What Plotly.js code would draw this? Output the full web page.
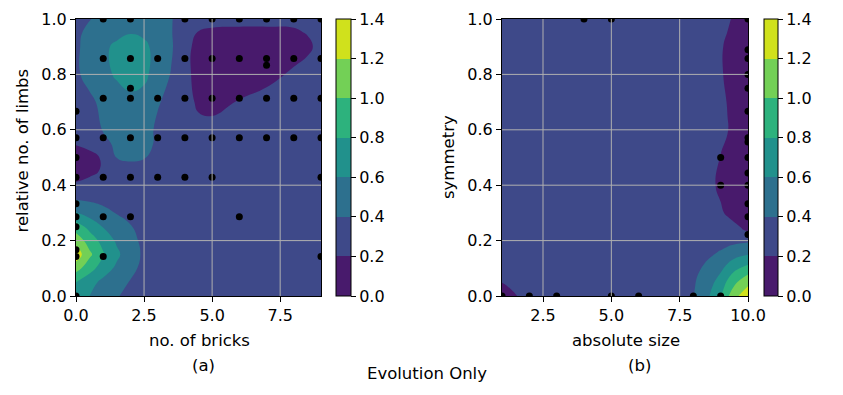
<!DOCTYPE html>
<html>
<head>
<meta charset="utf-8">
<script src="https://cdn.plot.ly/plotly-3.0.1.min.js"></script>
<style>
  html, body { margin: 0; padding: 0; background: #fff; }
  #plot-div { width: 843px; height: 395px; }
</style>
</head>
<body>
<div id="plot-div"></div>
<script>
// ---- (a) density grid ----
var gridXA = [0, 0.5, 1, 1.5, 2, 2.5, 3, 3.5, 4, 4.5, 5, 6, 7, 8, 8.5, 9];
var gridYA = [0, 0.05, 0.1, 0.15, 0.2, 0.25, 0.3, 0.35, 0.4, 0.45, 0.5, 0.55, 0.6, 0.7, 0.8, 0.9, 0.95, 1.0];
var densityA = [
  [0.67, 0.60, 0.49, 0.41, 0.36, 0.32, 0.31, 0.30, 0.30, 0.30, 0.30, 0.30, 0.30, 0.30, 0.30, 0.30],
  [0.80, 0.67, 0.55, 0.46, 0.39, 0.34, 0.31, 0.30, 0.30, 0.30, 0.30, 0.30, 0.30, 0.30, 0.30, 0.30],
  [1.08, 0.88, 0.70, 0.56, 0.44, 0.36, 0.32, 0.30, 0.30, 0.30, 0.30, 0.30, 0.30, 0.30, 0.30, 0.30],
  [1.32, 1.04, 0.82, 0.64, 0.48, 0.37, 0.32, 0.30, 0.30, 0.30, 0.30, 0.30, 0.30, 0.30, 0.30, 0.30],
  [1.12, 0.91, 0.73, 0.57, 0.45, 0.36, 0.32, 0.30, 0.30, 0.30, 0.30, 0.30, 0.30, 0.30, 0.30, 0.30],
  [0.90, 0.74, 0.59, 0.49, 0.41, 0.34, 0.31, 0.30, 0.30, 0.30, 0.30, 0.30, 0.30, 0.30, 0.30, 0.30],
  [0.61, 0.52, 0.45, 0.39, 0.35, 0.32, 0.30, 0.30, 0.30, 0.30, 0.30, 0.30, 0.30, 0.30, 0.30, 0.30],
  [0.39, 0.37, 0.35, 0.33, 0.31, 0.30, 0.30, 0.30, 0.30, 0.30, 0.30, 0.30, 0.30, 0.30, 0.30, 0.30],
  [0.22, 0.26, 0.29, 0.30, 0.31, 0.30, 0.30, 0.30, 0.30, 0.30, 0.30, 0.30, 0.30, 0.30, 0.30, 0.30],
  [0.13, 0.16, 0.22, 0.28, 0.35, 0.33, 0.30, 0.30, 0.30, 0.30, 0.30, 0.30, 0.30, 0.30, 0.30, 0.30],
  [0.12, 0.15, 0.22, 0.405, 0.42, 0.41, 0.33, 0.30, 0.30, 0.30, 0.30, 0.30, 0.30, 0.30, 0.30, 0.30],
  [0.21, 0.25, 0.33, 0.45, 0.48, 0.46, 0.37, 0.31, 0.30, 0.30, 0.30, 0.30, 0.30, 0.30, 0.30, 0.30],
  [0.28, 0.33, 0.41, 0.50, 0.52, 0.49, 0.36, 0.31, 0.29, 0.25, 0.25, 0.28, 0.30, 0.30, 0.30, 0.30],
  [0.30, 0.35, 0.46, 0.53, 0.55, 0.52, 0.42, 0.33, 0.27, 0.17, 0.15, 0.21, 0.27, 0.30, 0.30, 0.30],
  [0.36, 0.48, 0.56, 0.62, 0.68, 0.65, 0.50, 0.39, 0.25, 0.14, 0.11, 0.11, 0.14, 0.23, 0.28, 0.30],
  [0.36, 0.49, 0.57, 0.63, 0.70, 0.65, 0.52, 0.42, 0.26, 0.14, 0.11, 0.10, 0.10, 0.12, 0.16, 0.26],
  [0.35, 0.46, 0.54, 0.56, 0.59, 0.56, 0.50, 0.41, 0.28, 0.19, 0.17, 0.16, 0.16, 0.17, 0.21, 0.28],
  [0.32, 0.39, 0.47, 0.52, 0.54, 0.53, 0.47, 0.41, 0.31, 0.26, 0.25, 0.25, 0.25, 0.25, 0.27, 0.30]
];

// ---- (a) sampled robots ----
var bricksA = [0, 0, 0, 0, 0, 0, 0, 0, 0, 0,
               1, 1, 1, 1, 1, 1, 1,
               2, 2, 2, 2, 2, 2, 2,
               3, 3, 3, 3,
               4, 4, 4, 4, 4,
               5, 5, 5, 5, 5,
               6, 6, 6, 6, 6,
               7, 7, 7, 7, 7,
               8, 8, 8, 8,
               9, 9, 9, 9, 9, 9];
var limbsA = [0, 0.143, 0.167, 0.25, 0.286, 0.333, 0.429, 0.5, 0.571, 0.667,
              1, 0.857, 0.714, 0.571, 0.429, 0.286, 0.143,
              1, 0.857, 0.75, 0.714, 0.571, 0.429, 0.286,
              0.857, 0.714, 0.571, 0.429,
              1, 0.857, 0.714, 0.571, 0.429,
              1, 0.857, 0.714, 0.571, 0.429,
              1, 0.857, 0.714, 0.571, 0.286,
              1, 0.857, 0.833, 0.714, 0.571,
              1, 0.857, 0.714, 0.571,
              1, 0.857, 0.714, 0.571, 0.429, 0.143];

// ---- (b) density grid ----
var gridXB = [1, 1.5, 2, 3, 4, 5, 6, 7, 7.5, 8, 8.5, 9, 9.25, 9.5, 9.75, 10];
var gridYB = [0, 0.04, 0.08, 0.12, 0.16, 0.2, 0.24, 0.3, 0.4, 0.5, 0.6, 0.7, 0.8, 0.9, 1.0];
var densityB = [
  [0.10, 0.19, 0.28, 0.30, 0.30, 0.30, 0.30, 0.30, 0.32, 0.39, 0.56, 0.78, 0.97, 1.13, 1.24, 1.34],
  [0.18, 0.25, 0.29, 0.30, 0.30, 0.30, 0.30, 0.30, 0.32, 0.38, 0.52, 0.70, 0.86, 0.99, 1.09, 1.18],
  [0.28, 0.30, 0.30, 0.30, 0.30, 0.30, 0.30, 0.30, 0.31, 0.36, 0.47, 0.61, 0.73, 0.84, 0.92, 0.99],
  [0.30, 0.30, 0.30, 0.30, 0.30, 0.30, 0.30, 0.30, 0.31, 0.34, 0.41, 0.51, 0.59, 0.66, 0.71, 0.76],
  [0.30, 0.30, 0.30, 0.30, 0.30, 0.30, 0.30, 0.30, 0.30, 0.32, 0.36, 0.41, 0.45, 0.49, 0.52, 0.54],
  [0.30, 0.30, 0.30, 0.30, 0.30, 0.30, 0.30, 0.30, 0.30, 0.30, 0.31, 0.33, 0.34, 0.35, 0.36, 0.37],
  [0.30, 0.30, 0.30, 0.30, 0.30, 0.30, 0.30, 0.30, 0.30, 0.30, 0.30, 0.29, 0.27, 0.24, 0.21, 0.17],
  [0.30, 0.30, 0.30, 0.30, 0.30, 0.30, 0.30, 0.30, 0.30, 0.30, 0.28, 0.22, 0.18, 0.15, 0.12, 0.10],
  [0.30, 0.30, 0.30, 0.30, 0.30, 0.30, 0.30, 0.30, 0.30, 0.29, 0.25, 0.17, 0.13, 0.10, 0.07, 0.05],
  [0.30, 0.30, 0.30, 0.30, 0.30, 0.30, 0.30, 0.30, 0.30, 0.30, 0.27, 0.195, 0.16, 0.13, 0.10, 0.08],
  [0.30, 0.30, 0.30, 0.30, 0.30, 0.30, 0.30, 0.30, 0.30, 0.30, 0.29, 0.24, 0.205, 0.17, 0.14, 0.12],
  [0.30, 0.30, 0.30, 0.30, 0.30, 0.30, 0.30, 0.30, 0.30, 0.30, 0.29, 0.23, 0.195, 0.16, 0.13, 0.10],
  [0.30, 0.30, 0.30, 0.30, 0.30, 0.30, 0.30, 0.30, 0.30, 0.30, 0.28, 0.215, 0.175, 0.14, 0.11, 0.08],
  [0.30, 0.30, 0.30, 0.30, 0.30, 0.30, 0.30, 0.30, 0.30, 0.30, 0.28, 0.215, 0.175, 0.14, 0.11, 0.08],
  [0.30, 0.30, 0.30, 0.30, 0.30, 0.30, 0.30, 0.30, 0.30, 0.30, 0.29, 0.25, 0.22, 0.18, 0.14, 0.10]
];

// ---- (b) sampled robots ----
var sizeB = [4, 5,
             10, 10, 10, 10, 10, 10, 10, 10, 10, 10, 10, 10, 10, 10,
             9, 9,
             1, 2, 3, 5, 6, 8, 9];
var symmetryB = [1, 1,
                 1, 0.889, 0.857, 0.8, 0.75, 0.667, 0.571, 0.556, 0.5, 0.444, 0.4, 0.333, 0.286, 0.222,
                 0.5, 0.4,
                 0, 0, 0, 0, 0, 0, 0];

var xTicksA = [0, 2.5, 5, 7.5];
var xTicksB = [2.5, 5, 7.5, 10];
var yTicks = [0, 0.2, 0.4, 0.6, 0.8, 1.0];
var levelTicks = [0, 0.2, 0.4, 0.6, 0.8, 1.0, 1.2, 1.4];

// matplotlib viridis, one colour per filled band
var bandColors = ["#481a6c", "#3e4989", "#2d708e", "#21918c", "#2db27d", "#73d056", "#d0e11c"];
// where one band's colour hands over to the next on the 0..1 colour scale
var bandSteps = [0.15, 0.3, 0.46, 0.613, 0.768, 0.923];

var FONT = "DejaVu Sans, Arial, sans-serif";
var W = 843, H = 395;

function px(x) { return x / W; }
function py(y) { return 1 - y / H; }

function bandScale() {
  // hard steps, so each band gets one flat colour whichever point
  // of it plotly samples
  var cs = [[0, bandColors[0]]];
  bandSteps.forEach(function (s, k) {
    cs.push([s, bandColors[k]]);
    cs.push([s, bandColors[k + 1]]);
  });
  cs.push([1, bandColors[bandColors.length - 1]]);
  return cs;
}

function colorbarAt(left, width) {
  return {
    x: px(left), xanchor: "left", xref: "paper", xpad: 0,
    y: py(296), yanchor: "bottom", yref: "paper", ypad: 0,
    len: (296 - 19) / H, lenmode: "fraction",
    thickness: width, thicknessmode: "pixels",
    outlinewidth: 1, outlinecolor: "#000",
    ticks: "outside", ticklen: 5, tickwidth: 1, tickcolor: "#000",
    tickvals: levelTicks, tickformat: ".1f",
    tickfont: { family: FONT, size: 16, color: "#000" }
  };
}

function densityTrace(x, y, z, xa, ya, cb) {
  return {
    type: "contour", x: x, y: y, z: z, xaxis: xa, yaxis: ya,
    zmin: 0, zmax: 1.4, autocontour: false,
    contours: { start: 0, end: 1.41, size: 0.2, coloring: "fill", showlines: false },
    line: { width: 0, smoothing: 1.3 },
    colorscale: bandScale(),
    colorbar: cb,
    hoverinfo: "skip"
  };
}

function pointsTrace(x, y, xa, ya) {
  return {
    type: "scatter", mode: "markers", x: x, y: y, xaxis: xa, yaxis: ya,
    marker: { color: "#000", size: 7 },
    cliponaxis: true, showlegend: false, hoverinfo: "skip"
  };
}

function axisStyle(domain, range, ticks) {
  return {
    domain: domain, range: range, tickvals: ticks, tickformat: ".1f",
    showgrid: false, zeroline: false,
    showline: true, mirror: true, linecolor: "#000", linewidth: 1,
    ticks: "outside", ticklen: 5, tickwidth: 1, tickcolor: "#000",
    tickfont: { family: FONT, size: 16, color: "#000" },
    layer: "above traces", fixedrange: true
  };
}

function gridShapes(xref, yref, xs, ys) {
  var shapes = [];
  var line = { color: "#b0b0b0", width: 1 };
  xs.forEach(function (v) {
    shapes.push({ type: "line", layer: "above", xref: xref, yref: yref + " domain",
      x0: v, x1: v, y0: 0, y1: 1, line: line });
  });
  ys.forEach(function (v) {
    shapes.push({ type: "line", layer: "above", xref: xref + " domain", yref: yref,
      x0: 0, x1: 1, y0: v, y1: v, line: line });
  });
  return shapes;
}

function label(text, x, y, angle) {
  return {
    text: text, xref: "paper", yref: "paper", x: px(x), y: py(y),
    xanchor: "center", yanchor: "middle", showarrow: false,
    textangle: angle || 0,
    font: { family: FONT, size: 16.5, color: "#000" }
  };
}

var data = [
  densityTrace(gridXA, gridYA, densityA, "x", "y", colorbarAt(336, 15)),
  pointsTrace(bricksA, limbsA, "x", "y"),
  densityTrace(gridXB, gridYB, densityB, "x2", "y2", colorbarAt(764, 14)),
  pointsTrace(sizeB, symmetryB, "x2", "y2")
];

var innerY = yTicks.filter(function (v) { return v > 0 && v < 1; });

var layout = {
  width: W, height: H,
  margin: { l: 0, r: 0, t: 0, b: 0 },
  paper_bgcolor: "#fff", plot_bgcolor: "#fff",
  showlegend: false, hovermode: false,
  font: { family: FONT, color: "#000" },
  xaxis: Object.assign(axisStyle([px(76), px(321)], [0, 9], xTicksA), { anchor: "y" }),
  yaxis: Object.assign(axisStyle([py(296), py(19)], [0, 1], yTicks), { anchor: "x" }),
  xaxis2: Object.assign(axisStyle([px(502), px(748)], [1, 10], xTicksB), { anchor: "y2" }),
  yaxis2: Object.assign(axisStyle([py(296), py(19)], [0, 1], yTicks), { anchor: "x2" }),
  shapes: gridShapes("x", "y", xTicksA.filter(function (v) { return v > 0; }), innerY)
    .concat(gridShapes("x2", "y2", xTicksB.filter(function (v) { return v < 10; }), innerY)),
  annotations: [
    label("no. of bricks", 199, 340),
    label("(a)", 203.5, 365),
    label("relative no. of limbs", 21.5, 151, -90),
    label("absolute size", 626, 340),
    label("(b)", 639.5, 365),
    label("symmetry", 448, 157, -90),
    label("Evolution Only", 427, 373)
  ]
};

Plotly.newPlot("plot-div", data, layout, { displayModeBar: false, staticPlot: true });
</script>
</body>
</html>
